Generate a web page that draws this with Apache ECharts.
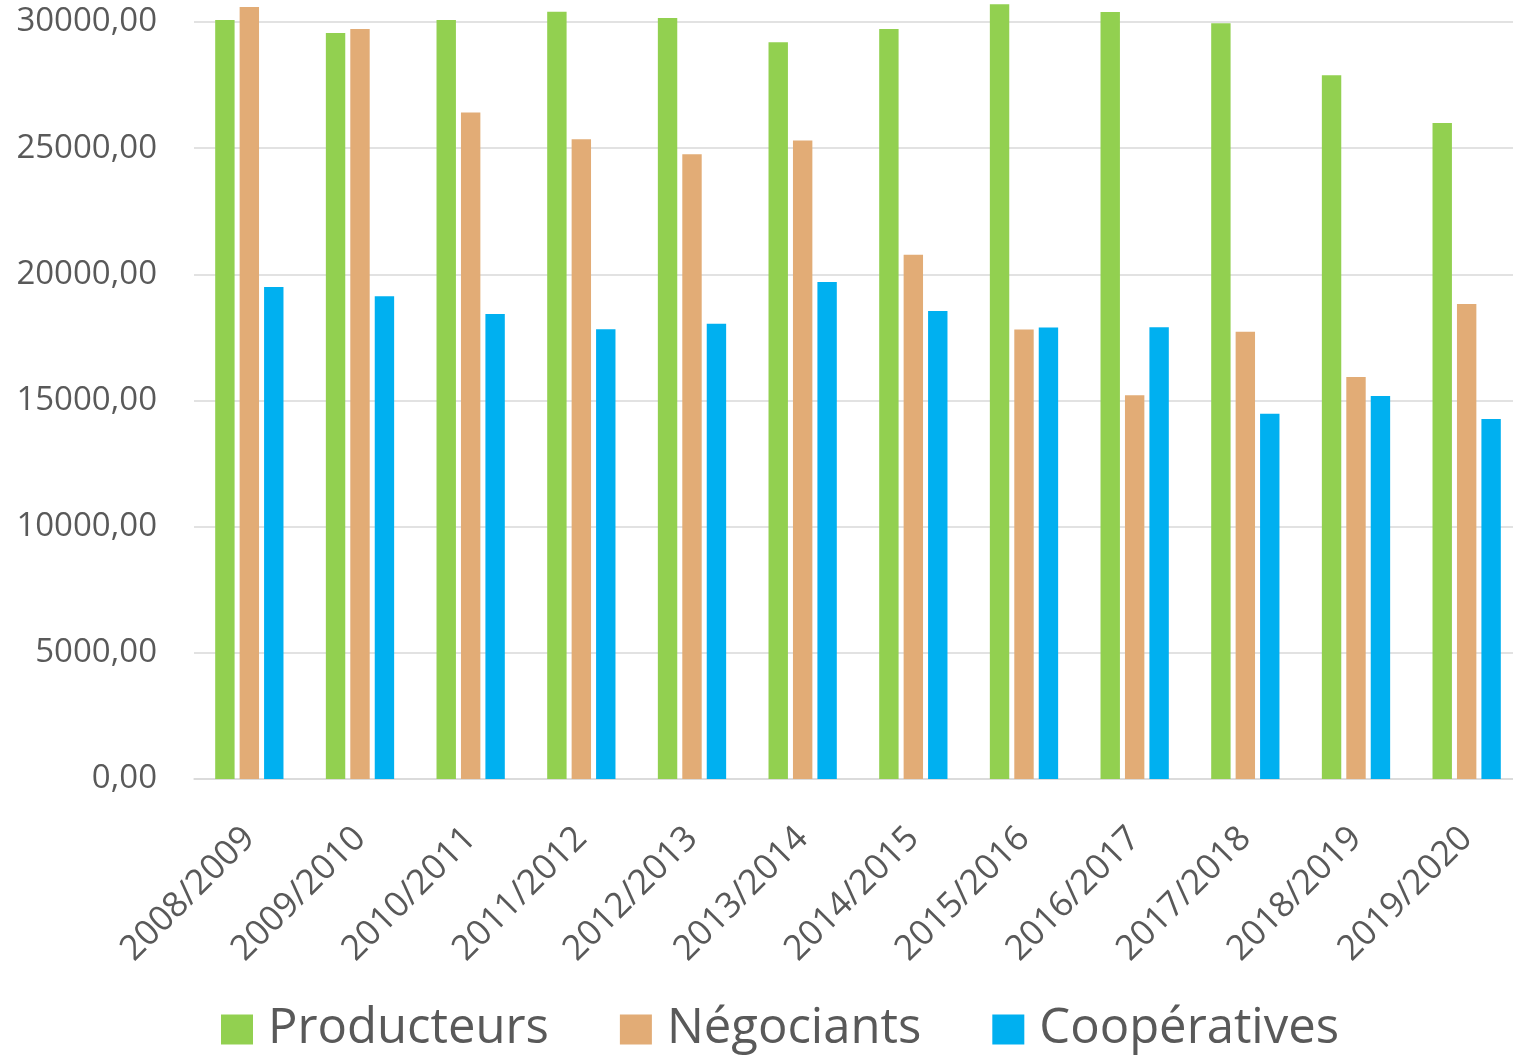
<!DOCTYPE html>
<html>
<head>
<meta charset="utf-8">
<script src="https://cdn.jsdelivr.net/npm/echarts@6/dist/echarts.min.js"></script>
<style>
html,body{margin:0;padding:0;background:#fff;}
#chart{width:1513px;height:1059px;}
</style>
</head>
<body>
<div id="chart"></div>
<script>
const categories = ['2008/2009','2009/2010','2010/2011','2011/2012','2012/2013','2013/2014','2014/2015','2015/2016','2016/2017','2017/2018','2018/2019','2019/2020'];
const producteurs = [30080, 29560, 30080, 30410, 30160, 29200, 29720, 30700, 30400, 29950, 27890, 26000];
const negociants  = [30590, 29720, 26410, 25350, 24760, 25300, 20780, 17810, 15210, 17720, 15930, 18820];
const cooperatives = [19500, 19130, 18430, 17820, 18040, 19700, 18550, 17890, 17900, 14470, 15180, 14270];
const seriesNames = ['Producteurs','Négociants','Coopératives'];
const colors = ['#92D050','#E2AC76','#00B0F0'];

const chart = echarts.init(document.getElementById('chart'), null, {renderer:'canvas'});
const font = '"Open Sans", "Noto Sans", sans-serif';
const mk = (name, data, color) => ({
  name, type:'bar', data, barWidth:19.4, barGap:'26%', clip:false,
  itemStyle:{color}, emphasis:{disabled:true}
});
chart.setOption({
  animation:false,
  color: colors,
  grid:{left:194, width:1328, top:22, height:757, containLabel:false, outerBoundsMode:'none'},
  legend:{
    left:216, top:1000, itemWidth:32, itemHeight:30, itemGap:71,
    icon:'rect',
    textStyle:{color:'#595959', fontSize:49, fontFamily:font, padding:[0,0,0,10]},
    data: seriesNames
  },
  xAxis:{
    type:'category', data:categories,
    axisLine:{show:true, lineStyle:{color:'#D9D9D9', width:1.5}},
    axisTick:{show:false},
    axisLabel:{rotate:45, margin:54, color:'#595959', fontSize:35, fontFamily:font, interval:0}
  },
  yAxis:{
    type:'value', min:0, max:30000, interval:5000,
    axisLine:{show:false}, axisTick:{show:false},
    splitLine:{lineStyle:{color:'#D9D9D9', width:1.5}},
    axisLabel:{margin:37, color:'#595959', fontSize:33, fontFamily:font,
      formatter: v => v.toFixed(2).replace('.', ',')}
  },
  series:[
    mk(seriesNames[0], producteurs, colors[0]),
    mk(seriesNames[1], negociants, colors[1]),
    mk(seriesNames[2], cooperatives, colors[2])
  ]
});
</script>
</body>
</html>
